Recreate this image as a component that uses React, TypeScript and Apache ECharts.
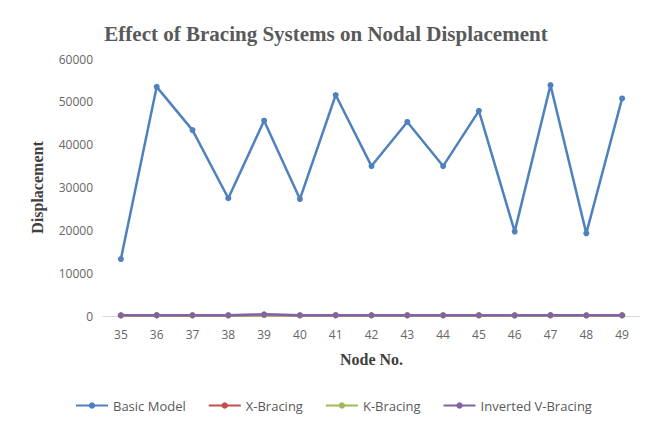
import React, { useEffect, useRef } from "react";
import * as echarts from "echarts";

const nodes = ["35", "36", "37", "38", "39", "40", "41", "42", "43", "44", "45", "46", "47", "48", "49"];
const basicModel = [13300, 53500, 43400, 27500, 45600, 27300, 51600, 35000, 45300, 35000, 47900, 19700, 53900, 19300, 50800];
const xBracing = [120, 150, 140, 130, 220, 130, 150, 140, 140, 130, 140, 120, 150, 120, 140];
const kBracing = [140, 170, 160, 150, 250, 150, 170, 160, 160, 150, 160, 140, 170, 140, 160];
const invertedV = [160, 190, 180, 170, 380, 170, 190, 180, 180, 170, 180, 160, 190, 160, 180];
const seriesNames = ["Basic Model", "X-Bracing", "K-Bracing", "Inverted V-Bracing"];
const seriesColors = ["#4F81BD", "#C0504D", "#9BBB59", "#8064A2"];

export default function App() {
  const ref = useRef<HTMLDivElement>(null);
  useEffect(() => {
    if (!ref.current) return;
    const chart = echarts.init(ref.current, undefined, { renderer: "svg" });
    const datas = [basicModel, xBracing, kBracing, invertedV];
    chart.setOption({
      animation: false,
      backgroundColor: "#ffffff",
      title: {
        text: "Effect of Bracing Systems on Nodal Displacement",
        left: "center",
        top: 10,
        textStyle: {
          fontFamily: "Liberation Serif",
          fontWeight: "bold",
          fontSize: 21,
          color: "#595959",
        },
      },
      legend: {
        bottom: 11,
        left: 62,
        itemWidth: 32,
        itemHeight: 8,
        itemGap: 22,
        data: seriesNames,
        textStyle: { fontFamily: "Open Sans", fontSize: 13, color: "#595959" },
      },
      grid: { left: 95, right: 4, top: 51, bottom: 112, containLabel: false },
      xAxis: {
        type: "category",
        data: nodes,
        boundaryGap: true,
        name: "Node No.",
        nameLocation: "middle",
        nameGap: 35,
        nameTextStyle: {
          fontFamily: "Liberation Serif",
          fontWeight: "bold",
          fontSize: 16,
          color: "#404040",
        },
        axisLine: { lineStyle: { color: "#D9D9D9" } },
        axisTick: { show: false },
        axisLabel: { fontFamily: "Open Sans", fontSize: 12, color: "#666666", margin: 12 },
      },
      yAxis: {
        type: "value",
        min: 0,
        max: 60000,
        interval: 10000,
        name: "Displacement",
        nameLocation: "middle",
        nameGap: 58,
        nameTextStyle: {
          fontFamily: "Liberation Serif",
          fontWeight: "bold",
          fontSize: 16,
          color: "#404040",
        },
        splitLine: { show: false },
        axisLine: { show: false },
        axisTick: { show: false },
        axisLabel: {
          fontFamily: "Open Sans",
          fontSize: 12,
          color: "#666666",
          margin: 10,
          formatter: (v: number) => String(v),
        },
      },
      series: seriesNames.map((name, i) => ({
        name,
        type: "line",
        data: datas[i],
        symbol: "circle",
        symbolSize: 6,
        color: seriesColors[i],
        lineStyle: { width: 2.5, color: seriesColors[i] },
        itemStyle: { color: seriesColors[i] },
      })),
    });
    return () => chart.dispose();
  }, []);
  return <div ref={ref} style={{ width: 636, height: 420 }} />;
}
